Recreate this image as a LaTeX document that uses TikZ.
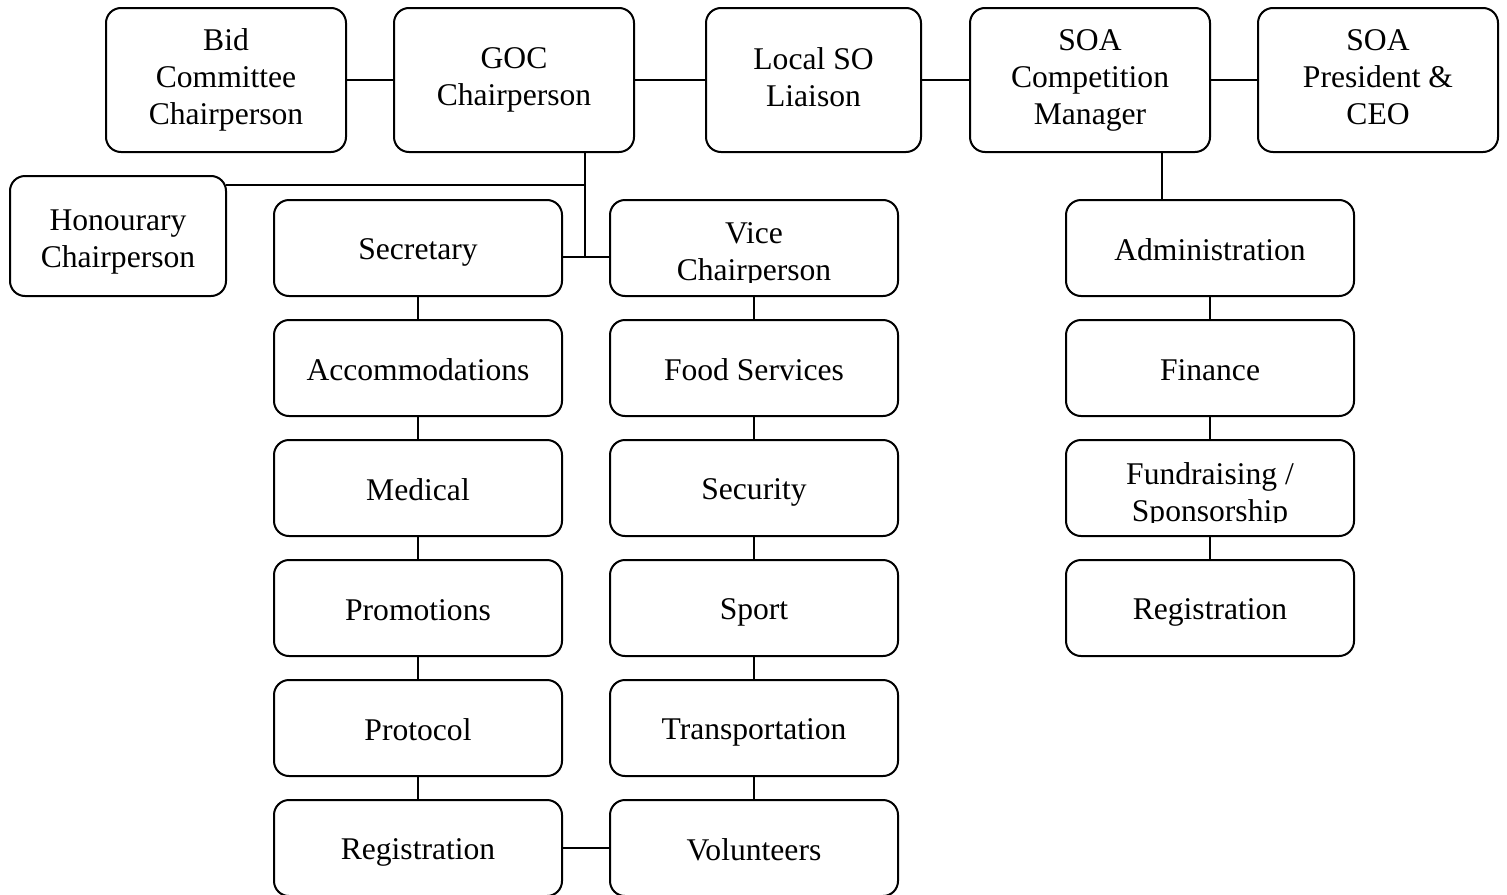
\documentclass[tikz,border=0pt]{standalone}
\usepackage{fontspec}
\setmainfont{Liberation Serif}
\usetikzlibrary{positioning}
\newcommand\boxstrut{\rule[-2.5pt]{0pt}{17pt}}

\begin{document}
\begin{tikzpicture}[x=0.5pt, y=-0.5pt, line width=1pt,
  font=\fontsize{15.8}{18.5}\selectfont,
  txt/.style = {align=center, execute at begin node=\boxstrut, execute at end node=\boxstrut},
  box/.style = {draw, rounded corners=7.5pt, txt, inner sep=0pt, outer sep=0pt,
    minimum width=144pt, minimum height=48pt},
  topbox/.style = {box, minimum width=120pt, minimum height=72pt},
  shiftbox/.style 2 args = {box, path picture={
    \node[draw=none, txt, anchor=center, inner sep=0pt, minimum width=0pt, minimum height=0pt]
      at ([yshift=#1]path picture bounding box.center) {#2};}},
  cutbox/.style = {box, path picture={
    \clip ([yshift=7pt]path picture bounding box.south west) rectangle (path picture bounding box.north east);
    \node[draw=none, txt, anchor=center, inner sep=0pt, minimum width=0pt, minimum height=0pt]
      at ([yshift=-3.5pt]path picture bounding box.center) {#1};}},
  node distance=12pt]
\useasboundingbox (0,0) rectangle (1507,894);

% top row
\node[topbox] (bid) at (226,80) {Bid\\Committee\\Chairperson};
\node[topbox] (goc) at (514,80) {GOC\\Chairperson};
\node[topbox, minimum width=107.5pt] (liaison) at (813.5,80) {Local SO\\Liaison};
\node[topbox] (socm) at (1090,80) {SOA\\Competition\\Manager};
\node[topbox] (ceo) at (1378,80) {SOA\\President \&\\CEO};
\node[shiftbox={-3pt}{Honourary\\Chairperson}, minimum width=108pt, minimum height=60pt] (hon) at (118,236) {};

% left column
\node[box] (sec) at (418,248) {Secretary};
\node[box] (acc) [below=of sec] {Accommodations};
\node[box] (med) [below=of acc] {Medical};
\node[box] (promo) [below=of med] {Promotions};
\node[box] (prot) [below=of promo] {Protocol};
\node[box] (reg) [below=of prot] {Registration};

% middle column
\node[cutbox={Vice\\Chairperson}] (vice) at (754,248) {};
\node[box] (food) [below=of vice] {Food Services};
\node[box] (secu) [below=of food] {Security};
\node[box] (sport) [below=of secu] {Sport};
\node[box] (trans) [below=of sport] {Transportation};
\node[box] (vol) [below=of trans] {Volunteers};

% right column
\node[box] (admin) at (1210,248) {Administration};
\node[box] (fin) [below=of admin] {Finance};
\node[cutbox={Fundraising /\\Sponsorship}] (fund) at (1210,488) {};
\node[box] (regsoa) [below=of fund] {Registration};

\coordinate (j1) at (585,185);
\coordinate (j2) at (585,257);
\coordinate (j3) at (1162,152);

\draw (bid) -- (goc);
\draw (goc) -- (liaison);
\draw (liaison) -- (socm);
\draw (socm) -- (ceo);

\draw (goc.south -| j1) -- (j2);
\draw (hon.east |- j1) -- (j1);
\draw (sec.east |- j2) -- (vice.west |- j2);
\draw (j3) -- (admin.north -| j3);

\foreach \a/\b in {sec/acc, acc/med, med/promo, promo/prot, prot/reg,
  vice/food, food/secu, secu/sport, sport/trans, trans/vol,
  admin/fin, fin/fund, fund/regsoa}
  \draw (\a) -- (\b);
\draw (reg) -- (vol);
\end{tikzpicture}
\end{document}
